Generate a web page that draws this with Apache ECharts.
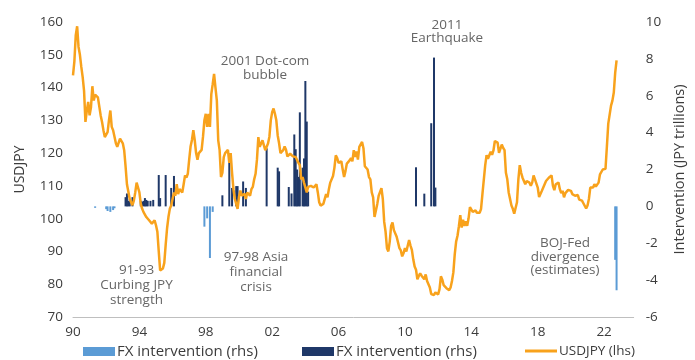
<!DOCTYPE html>
<html>
<head>
<meta charset="utf-8">
<script src="https://cdn.jsdelivr.net/npm/echarts@6/dist/echarts.min.js"></script>
<style>
  html, body { margin: 0; padding: 0; background: #ffffff; }
  #chart { width: 695px; height: 360px; }
</style>
</head>
<body>
<div id="chart"></div>
<script>
// USDJPY, one value per month starting January 1990
const FIRST_YEAR = 1990;
const usdjpy1990s = [
  143.7, 148, 156, 158.7, 152.4, 150, 146.3, 143.2, 139, 129.5, 133, 135.6,
  131.5, 134, 140.4, 136.1, 137.8, 137.5, 137, 136.6, 131.5, 129.5, 127, 124.9,
  125, 126.4, 130, 133, 128, 127, 126.4, 123, 121.9, 122, 124.4, 124,
  123, 120.9, 116, 110.5, 108.3, 106, 105, 104.1, 105.5, 108, 111, 111.2,
  108, 104.6, 103, 102, 101.5, 100.5, 100, 99.5, 99, 98.5, 98.5, 99.5,
  98, 96, 90, 84.2, 84.2, 84.8, 86.5, 92, 97, 100.5, 103, 104,
  106, 108, 107, 110.5, 107.5, 109, 109.5, 108, 110.5, 113.2, 112.5, 113.7,
  118, 122, 124, 127, 124, 120, 118, 120, 120.5, 121, 125, 130,
  132, 128, 132, 128, 138, 141, 144.2, 140, 136, 123.9, 120.9, 112.7,
  114, 118.8, 120, 120.5, 121, 117, 120, 114, 109, 106, 104.5, 103
];
const usdjpy2000s = [
  106.6, 108.6, 107, 107.1, 107.6, 106, 108, 108.6, 107, 109, 109.7, 112,
  113.7, 118, 124.9, 121.9, 122, 123.9, 124.4, 120.9, 121.4, 122.9, 125, 130,
  132.5, 133.6, 132, 130, 125.4, 123, 120, 119.5, 120.9, 122, 121, 119,
  118.8, 119.8, 119.8, 119, 118.5, 118.8, 118.5, 117, 116.3, 112, 112.7, 111,
  110.7, 108, 109.7, 109.7, 110, 109.7, 109.5, 110, 110.5, 108, 105, 104,
  103.5, 104.5, 105, 107.5, 106.5, 109, 111, 110.5, 113, 115.5, 119.3, 118.5,
  117, 116.8, 117.5, 115, 112.7, 114.5, 116.8, 116.5, 117.8, 118.5, 117.5, 120.9,
  118.8, 120.5, 118, 121.9, 122, 123.4, 121.5, 116, 115.8, 115, 112.7, 112,
  108, 106.5, 100.5, 102.5, 104.5, 107, 106.5, 109.3, 106, 99, 96, 91,
  90, 93, 97.8, 98.8, 96.5, 96.5, 94.5, 94.5, 91, 90.3, 88.5, 89.5
];
const usdjpy2010s = [
  91, 90, 90.5, 93.5, 91.8, 90.5, 87.6, 85.4, 84.4, 81.5, 82.5, 83.3,
  82.6, 82.5, 81.5, 83, 81, 80.5, 79, 77, 76.8, 76.7, 77.5, 77.8,
  76.9, 78.5, 82.4, 81.4, 79.7, 79.3, 78.8, 78.6, 78.2, 79, 81, 83.6,
  89.1, 93, 94.8, 97.7, 101.1, 97.3, 99.7, 97.8, 99.2, 97.8, 100.1, 103.5,
  103.9, 102.1, 102.3, 102.5, 101.8, 102.1, 101.8, 102.9, 107.4, 108, 116.2, 119.4,
  118.3, 118.8, 120.4, 119.5, 120.8, 123.7, 123.3, 123.2, 120.1, 120.1, 122.6, 121.6,
  120.9, 114, 112, 108, 108.5, 104, 103, 101.5, 101, 105, 112, 116.3,
  114, 112.5, 112, 110.5, 111.5, 111.5, 111, 110, 111, 113.2, 112, 112.5,
  109.5, 106.6, 106, 108.5, 109.5, 110.5, 111.5, 111, 112.5, 113, 113.2, 110,
  108.7, 110.5, 110.8, 111, 109, 107.8, 108.5, 106.5, 107.8, 108, 108.8, 108.5
];
const usdjpy2020s = [
  108.5, 107.5, 107.5, 107, 107.5, 107.2, 105.8, 106, 105.5, 104.7, 104.2, 103.1,
  104, 106, 109.5, 109, 109.5, 110.5, 109.8, 110, 111, 113.5, 113.5, 115,
  115, 115.2, 122, 129, 129, 134.5, 136, 138.5, 144.5, 148.3
];

// FX intervention by month, JPY trillions: yen buying (negative) and yen selling (positive)
const yenBuyMonths = ['1991-05', '1992-01', '1992-02', '1992-04', '1992-06', '1992-07',
  '1997-12', '1998-02', '1998-04', '1998-06', '2022-09', '2022-10'];
const yenBuyValues = [-0.08, -0.15, -0.25, -0.3, -0.2, -0.1,
  -1.1, -0.65, -2.8, -0.3, -2.9, -4.55];

const yenSellMonths = ['1993-03', '1993-04', '1993-05', '1993-06', '1993-08',
  '1994-02', '1994-03', '1994-04', '1994-05', '1994-06', '1994-07', '1994-09', '1994-11',
  '1995-03', '1995-04', '1995-08', '1995-12', '1996-02',
  '1999-01', '1999-06', '1999-08', '1999-11', '1999-12', '2000-04', '2000-06',
  '2001-09', '2002-05', '2002-06',
  '2003-01', '2003-03', '2003-05', '2003-06', '2003-07', '2003-08', '2003-09',
  '2003-11', '2003-12', '2004-01', '2004-02', '2004-03',
  '2010-09', '2011-03', '2011-08', '2011-10', '2011-11'];
const yenSellValues = [0.5, 0.7, 0.3, 0.4, 0.5,
  0.3, 0.25, 0.3, 0.45, 0.35, 0.3, 0.3, 0.35,
  1.7, 0.45, 1.7, 1.0, 1.65,
  0.6, 2.5, 1.0, 1.1, 1.1, 1.35, 1.0,
  3.15, 2.1, 1.9,
  1.05, 0.7, 3.9, 3.1, 2.0, 1.6, 5.1,
  2.1, 2.6, 6.8, 4.6, 0.8,
  2.12, 0.69, 4.51, 8.07, 1.02];

// Axis ranges
const yearRange = [1990, 2023.78];
const usdjpyRange = [70, 160];
const interventionRange = [-6, 10];

// Event notes
const notes = [
  { text: '91-93\nCurbing JPY\nstrength', x: 136.5, y: 262.5, lh: 15 },
  { text: '97-98 Asia\nfinancial\ncrisis', x: 256, y: 249.5, lh: 15 },
  { text: '2001 Dot-com\nbubble', x: 265, y: 54, lh: 14.3 },
  { text: '2011\nEarthquake', x: 447, y: 18.3, lh: 13.4 },
  { text: 'BOJ-Fed\ndivergence\n(estimates)', x: 565, y: 236.6, lh: 13.4 }
];

const legendLabels = {
  yenBuy: 'FX intervention (rhs)',
  yenSell: 'FX intervention (rhs)',
  usdjpy: 'USDJPY (lhs)'
};

function monthPos(s) {
  const parts = s.split('-').map(Number);
  return parts[0] + (parts[1] - 1) / 12;
}

const usdjpyAll = usdjpy1990s.concat(usdjpy2000s, usdjpy2010s, usdjpy2020s);
const usdjpyData = usdjpyAll.map((v, i) => [FIRST_YEAR + i / 12, v]);
const yenBuyData = yenBuyMonths.map((m, i) => [monthPos(m), yenBuyValues[i]]);
const yenSellData = yenSellMonths.map((m, i) => [monthPos(m), yenSellValues[i]]);

const FONT = '"Open Sans", "Noto Sans", sans-serif';
const AXIS_TEXT = '#3c3c3c';
const NOTE_TEXT = '#666666';

const chart = echarts.init(document.getElementById('chart'), null, { renderer: 'canvas' });

function legendBlock(name, left, iconH, fontSize) {
  return {
    data: [name],
    left: left,
    top: 344,
    itemWidth: 32,
    itemHeight: iconH,
    icon: 'rect',
    padding: 0,
    selectedMode: false,
    formatter: n => legendLabels[n],
    textStyle: { fontFamily: FONT, fontSize: fontSize, color: AXIS_TEXT, padding: [0, 0, 0, -3] }
  };
}

chart.setOption({
  animation: false,
  backgroundColor: '#ffffff',
  textStyle: { fontFamily: FONT },
  grid: { left: 73, right: 52, top: 22, bottom: 43 },
  legend: [
    legendBlock('yenBuy', 83, 9, 15),
    legendBlock('yenSell', 302, 9, 15),
    legendBlock('usdjpy', 525, 3, 13.5)
  ],
  xAxis: {
    type: 'value',
    min: yearRange[0],
    max: yearRange[1],
    interval: 4,
    axisLine: { show: true, onZero: false, lineStyle: { color: '#bfbfbf', width: 1 } },
    axisTick: { show: false },
    splitLine: { show: false },
    axisLabel: {
      showMaxLabel: false,
      margin: 8,
      fontSize: 13.5,
      color: AXIS_TEXT,
      fontFamily: FONT,
      formatter: v => String(Math.round(v)).slice(2)
    }
  },
  yAxis: [
    {
      type: 'value',
      min: usdjpyRange[0],
      max: usdjpyRange[1],
      interval: 10,
      position: 'left',
      name: 'USDJPY',
      nameLocation: 'middle',
      nameGap: 46,
      nameTextStyle: { fontSize: 14, color: AXIS_TEXT, fontFamily: FONT },
      axisLine: { show: false },
      axisTick: { show: false },
      splitLine: { show: false },
      axisLabel: { margin: 10, fontSize: 13.5, color: AXIS_TEXT, fontFamily: FONT }
    },
    {
      type: 'value',
      min: interventionRange[0],
      max: interventionRange[1],
      interval: 2,
      position: 'right',
      name: 'Intervention (JPY trillions)',
      nameLocation: 'middle',
      nameGap: 35,
      nameTextStyle: { fontSize: 14.5, color: AXIS_TEXT, fontFamily: FONT },
      axisLine: { show: false },
      axisTick: { show: false },
      splitLine: { show: false },
      axisLabel: { margin: 12, fontSize: 13.5, color: AXIS_TEXT, fontFamily: FONT }
    }
  ],
  series: [
    {
      name: 'yenBuy',
      type: 'bar',
      yAxisIndex: 1,
      barWidth: 2,
      barGap: '-100%',
      itemStyle: { color: '#5b9bd5' },
      data: yenBuyData
    },
    {
      name: 'yenSell',
      type: 'bar',
      yAxisIndex: 1,
      barWidth: 2,
      barGap: '-100%',
      itemStyle: { color: '#1f3868' },
      data: yenSellData
    },
    {
      name: 'usdjpy',
      type: 'line',
      yAxisIndex: 0,
      showSymbol: false,
      symbol: 'none',
      lineStyle: { color: '#f8a21c', width: 2.5 },
      itemStyle: { color: '#f8a21c' },
      data: usdjpyData,
      z: 5
    }
  ],
  graphic: notes.map(n => ({
    type: 'text',
    x: n.x,
    y: n.y,
    style: {
      text: n.text,
      fill: NOTE_TEXT,
      font: '13.5px ' + FONT,
      align: 'center',
      verticalAlign: 'top',
      lineHeight: n.lh
    },
    z: 10
  }))
});
</script>
</body>
</html>
